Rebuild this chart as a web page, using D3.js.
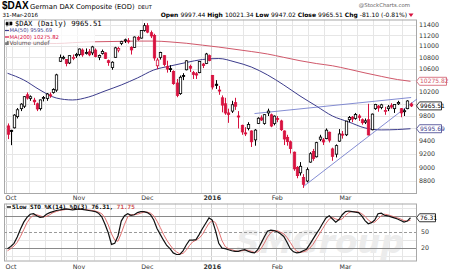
<!DOCTYPE html>
<html>
<head>
<meta charset="utf-8">
<script src="https://cdn.jsdelivr.net/npm/d3@7"></script>
<style>
body { margin: 0; background: #fff; }
svg { display: block; font-family: "DejaVu Sans", Verdana, sans-serif; }
</style>
</head>
<body>
<div id="chart"></div>
<script>
// daily OHLC, 1-Oct-2015 .. 31-Mar-2016 (125 sessions)
var opens = [
  9640,9570,9610,9790,9920,9960,10150,10090,10060,10000,9920,10090,10090,10150,10190,10230,10730,10790,10760,10700,10790,10830,
  10850,10930,10880,10900,10880,10930,10800,10870,10880,10740,10620,10800,10930,11050,11100,11100,10980,10980,11160,11150,11290,
  11380,11250,11200,10650,10800,10830,10640,10600,10550,10350,10170,10480,10580,10640,10530,10510,10530,10680,10690,10830,
  10480,10330,10230,10100,10000,9850,9880,10020,9800,9650,9530,9600,9560,9420,9680,9770,9680,9850,9820,9680,
  9760,9720,9560,9460,9390,9230,9000,8920,8850,8800,9080,9240,9160,9430,9420,9440,9540,9280,9200,9400,9510,
  9500,9740,9780,9760,9800,9740,9700,9740,9580,9920,9960,9940,9880,9920,9970,9920,10000,9920,9870,9920,9997.44
];
var highs = [
  9680,9580,9830,9930,10010,10130,10190,10140,10100,10020,10070,10130,10180,10190,10260,10510,10850,10830,10770,10840,10850,10880,
  10960,10960,10960,10950,11010,10960,10850,10940,10890,10760,10730,10990,10990,11100,11140,11150,11000,11180,11190,11300,11430,
  11430,11290,11230,10790,10900,10840,10740,10660,10570,10420,10480,10520,10750,10670,10560,10540,10730,10700,10880,10850,
  10490,10400,10300,10140,10100,9920,10050,10100,9880,9660,9620,9700,9570,9590,9780,9810,9830,9920,9840,9810,
  9800,9740,9570,9500,9410,9240,9020,9080,8900,9000,9230,9280,9390,9500,9450,9600,9550,9300,9350,9590,9560,
  9720,9800,9800,9850,9830,9760,9760,10000,9840,10000,9980,10000,9950,9980,10010,9990,10050,9930,9920,10060,10021.34
];
var lows = [
  9432,9338,9600,9760,9880,9930,10070,10050,9980,9880,9890,10040,10050,10100,10170,10200,10720,10760,10640,10680,10750,10790,
  10820,10810,10850,10820,10840,10800,10750,10850,10770,10650,10580,10790,10890,11020,11060,11050,10850,10970,11100,11140,11270,
  11240,11150,10740,10590,10760,10640,10530,10540,10320,10110,10150,10400,10570,10540,10420,10420,10520,10610,10680,10730,
  10240,10250,10150,9860,9820,9690,9850,9900,9600,9500,9480,9570,9310,9330,9670,9720,9660,9800,9620,9650,
  9700,9560,9340,9330,9210,8950,8840,8880,8700,8780,9070,9100,9150,9400,9340,9430,9380,9100,9150,9390,9440,
  9480,9700,9700,9740,9720,9660,9670,9490,9570,9900,9870,9910,9820,9880,9920,9850,9980,9780,9800,9910,9947.02
];
var closes = [
  9509,9553,9815,9902,9995,10119,10096,10118,10033,9915,10065,10104,10164,10147,10239,10491,10795,10801,10692,10831,10800,10850,
  10950,10845,10887,10845,10988,10815,10832,10907,10783,10708,10713,10971,10959,11085,11119,11092,10934,11169,11125,11293,11382,
  11261,11190,10789,10752,10886,10673,10592,10598,10340,10140,10450,10469,10738,10608,10500,10488,10727,10654,10860,10743,
  10283,10310,10214,9979,9849,9825,9985,9960,9794,9545,9521,9664,9391,9574,9764,9736,9822,9880,9639,9798,
  9757,9581,9434,9393,9286,8979,8879,9017,8752,8967,9206,9135,9377,9464,9388,9573,9416,9167,9331,9513,9495,
  9717,9776,9751,9824,9778,9692,9723,9498,9831,9990,9933,9983,9892,9950,9948,9990,10022,9851,9887,10047,9965.51
];

// moving averages (session index -> value)
var maIndex = [0,5,10,15,20,25,30,35,40,45,50,55,60,65,70,75,80,85,90,95,100,105,110,115,120,124];
var ma50 = [10519,10403,10231,10097,10064,10114,10215,10317,10438,10576,10646,10708,10762,10779,10718,10629,10490,10317,10131,9964,9800,9704,9608,9577,9583,9595.69];
var ma200 = [11060,11060,11055,11050,11065,11080,11085,11090,11095,11095,11080,11055,11020,10985,10945,10905,10860,10800,10740,10690,10650,10590,10525,10465,10410,10380];

// hand drawn trendlines [session index, price]
var upperTrend = [[76, 9840], [124.2, 10105]];
var lowerTrend = [[90.9, 8714], [126, 10081]];

// slow stochastic
var stoK = [18,22,28,40,55,68,77,83,84,80,77,78,83,86,88,90,91,92,93,92,91,92,93,92,91,90,89,88,85,78,
  64,48,26,28,42,70,80,84,81,82,86,88,88,86,82,72,56,45,34,24,18,10,7,7,14,25,34,34,35,45,
  56,66,76,72,52,28,19,18,16,14,13,13,15,16,13,11,10,16,28,40,51,53,52,50,46,41,30,18,12,10,
  11,14,17,26,36,46,55,66,76,80,74,68,73,82,88,89,88,87,86,80,71,65,67,72,84,85,81,80,78,76,
  74,71,68,70,76.31];
var stoD = [14,18,23,30,41,54,67,76,81,82,80,78,79,82,86,88,90,91,92,92,92,92,92,92,92,91,90,89,87,84,
  76,63,46,34,32,47,64,78,82,82,83,85,87,87,85,80,70,58,45,34,25,17,12,8,9,15,24,31,34,38,
  45,56,66,71,67,51,33,22,18,16,14,13,14,15,15,13,11,12,18,28,40,48,52,52,49,46,39,30,20,13,
  11,12,14,19,26,36,46,56,66,74,77,74,72,74,81,86,88,88,87,84,79,72,68,68,74,80,83,82,80,78,
  76,74,71,70,71.75];

var priceTicks = [8800,9000,9200,9400,9600,9800,10000,10200,10400,10600,10800,11000,11200,11400];
var hiddenTicks = [9600, 10000, 10400];   // covered by the value tags
var stoTicks = [20, 50];
var holidays = ["2015-12-24","2015-12-25","2015-12-31","2016-01-01","2016-03-25","2016-03-28"];

// trading days
var fmt = d3.timeFormat("%Y-%m-%d");
var dates = [];
for (var d = new Date(2015, 9, 1); d <= new Date(2016, 2, 31); d.setDate(d.getDate() + 1)) {
  var wd = d.getDay();
  if (wd == 0 || wd == 6) continue;
  if (holidays.indexOf(fmt(d)) >= 0) continue;
  dates.push(new Date(d));
}

var RED = "#d8123f", BLUE = "#3c3c8c", MARED = "#d0586a", TREND = "#6470c8";

var svg = d3.select("#chart").append("svg").attr("width", 450).attr("height", 272);

var main = {left: 4, right: 416, top: 19.5, bottom: 193};
var sto = {left: 4, right: 416, top: 203.5, bottom: 260.5};

var x = d3.scaleLinear().domain([0, 124]).range([7.5, 410.5]);
var y = d3.scaleLog().domain([8800, 11400]).range([181, 24.7]);
var ys = d3.scaleLinear().domain([0, 100]).range([258.2, 205.2]);

// week / month starts
var weekStarts = [], monthStarts = [];
dates.forEach(function(dt, i) {
  if (i == 0 || dt.getDay() < dates[i - 1].getDay()) weekStarts.push(i);
  if (i == 0 || dt.getMonth() != dates[i - 1].getMonth()) monthStarts.push(i);
});

function panelGrid(p, hvals, yfn) {
  var g = svg.append("g");
  g.selectAll(".v").data(weekStarts).enter().append("line")
    .attr("x1", function(i) { return Math.round(x(i) - 1.6) + 0.5; })
    .attr("x2", function(i) { return Math.round(x(i) - 1.6) + 0.5; })
    .attr("y1", p.top).attr("y2", p.bottom)
    .attr("stroke", function(i) { return monthStarts.indexOf(i) >= 0 ? "#cfcfcf" : "#e6e6e6"; })
    .attr("stroke-width", 1);
  g.selectAll(".h").data(hvals).enter().append("line")
    .attr("x1", p.left).attr("x2", p.right)
    .attr("y1", function(v) { return Math.round(yfn(v)) + 0.5; })
    .attr("y2", function(v) { return Math.round(yfn(v)) + 0.5; })
    .attr("stroke", "#e6e6e6");
}

panelGrid(main, priceTicks, y);
panelGrid(sto, [5, 35, 65, 95], ys);

// watermark
svg.append("text").attr("x", 236).attr("y", 253)
  .attr("font-size", 32).attr("font-weight", "bold").attr("font-style", "italic")
  .attr("fill", "#ececec").attr("textLength", 168).attr("lengthAdjust", "spacingAndGlyphs")
  .text("SMGroup");

// stoch reference lines
[20, 80].forEach(function(v) {
  svg.append("line").attr("x1", sto.left).attr("x2", sto.right)
    .attr("y1", Math.round(ys(v)) + 0.5).attr("y2", Math.round(ys(v)) + 0.5)
    .attr("stroke", "#8a8a8a");
});
svg.append("line").attr("x1", sto.left).attr("x2", sto.right)
  .attr("y1", Math.round(ys(50)) + 0.5).attr("y2", Math.round(ys(50)) + 0.5)
  .attr("stroke", "#9a9a9a").attr("stroke-dasharray", "3,2");

// panel borders
[main, sto].forEach(function(p) {
  svg.append("rect").attr("x", p.left + 0.5).attr("y", p.top + 0.5)
    .attr("width", p.right - p.left).attr("height", p.bottom - p.top)
    .attr("fill", "none").attr("stroke", "#a8a8a8");
});

// moving averages
var maLine = function(vals) {
  return d3.line().curve(d3.curveMonotoneX)
    .x(function(d, i) { return x(maIndex[i]); })
    .y(function(d) { return y(d); })(vals);
};
svg.append("path").attr("d", maLine(ma200)).attr("fill", "none").attr("stroke", MARED).attr("stroke-width", 1);
svg.append("path").attr("d", maLine(ma50)).attr("fill", "none").attr("stroke", BLUE).attr("stroke-width", 1);

// trendlines
[upperTrend, lowerTrend].forEach(function(t) {
  svg.append("line")
    .attr("x1", x(t[0][0])).attr("y1", y(t[0][1]))
    .attr("x2", x(t[1][0])).attr("y2", y(t[1][1]))
    .attr("stroke", TREND).attr("stroke-width", 0.8);
});

// candles
var idx = d3.range(closes.length);
var col = function(i) { return (i == 0 || closes[i] < closes[i - 1]) ? RED : "#000"; };
var cg = svg.append("g").selectAll("g").data(idx).enter().append("g");
cg.append("line")
  .attr("x1", function(i) { return Math.round(x(i)) + 0.5; })
  .attr("x2", function(i) { return Math.round(x(i)) + 0.5; })
  .attr("y1", function(i) { return y(highs[i]); })
  .attr("y2", function(i) { return y(lows[i]); })
  .attr("stroke", col).attr("stroke-width", 1);
cg.append("rect")
  .attr("x", function(i) { return Math.round(x(i)) - 0.7; })
  .attr("width", 2.4)
  .attr("y", function(i) { return y(Math.max(opens[i], closes[i])); })
  .attr("height", function(i) { return Math.max(1, Math.abs(y(opens[i]) - y(closes[i]))); })
  .attr("fill", function(i) { return closes[i] < opens[i] ? col(i) : "#fff"; })
  .attr("stroke", col).attr("stroke-width", 0.8);

// stochastic lines
var stoLine = d3.line().x(function(d, i) { return x(i); }).y(function(d) { return ys(d); });
svg.append("path").attr("d", stoLine(stoD)).attr("fill", "none").attr("stroke", "#e07070").attr("stroke-width", 1);
svg.append("path").attr("d", stoLine(stoK)).attr("fill", "none").attr("stroke", "#111").attr("stroke-width", 1.2);

// right axes
svg.append("g").attr("font-size", 6.3).attr("fill", "#333")
  .selectAll("text").data(priceTicks.filter(function(v) { return hiddenTicks.indexOf(v) < 0; }))
  .enter().append("text")
  .attr("x", 419).attr("y", function(v) { return y(v); }).attr("dy", "0.35em")
  .text(function(v) { return v; });
svg.append("g").attr("font-size", 6.3).attr("fill", "#333")
  .selectAll("text").data(stoTicks).enter().append("text")
  .attr("x", 421).attr("y", function(v) { return ys(v); }).attr("dy", "0.35em")
  .text(function(v) { return v; });

function tag(yv, label, color, w) {
  var x0 = 416.5, h = 4;
  svg.append("path")
    .attr("d", "M" + x0 + "," + yv + "L" + (x0 + 3) + "," + (yv - h) + "L" + (x0 + w) + "," + (yv - h) +
      "L" + (x0 + w) + "," + (yv + h) + "L" + (x0 + 3) + "," + (yv + h) + "Z")
    .attr("fill", "#fff").attr("stroke", color).attr("stroke-width", 0.8);
  svg.append("text").attr("x", x0 + 3.5).attr("y", yv).attr("dy", "0.35em")
    .attr("font-size", 6).attr("fill", color).text(label);
}
tag(y(ma200[ma200.length - 1]), "10275.82", MARED, 30);
tag(y(closes[124]), "9965.51", "#000", 25);
tag(y(ma50[ma50.length - 1]), "9595.69", BLUE, 25);
tag(ys(stoK[124]), "76.31", "#000", 19);

// month labels
var monthNames = ["Oct", "Nov", "Dec", "2016", "Feb", "Mar"];
[198, 267].forEach(function(ly) {
  svg.append("g").selectAll("text").data(monthStarts).enter().append("text")
    .attr("x", function(i) { return Math.max(11, x(i)); })
    .attr("y", ly).attr("dy", "0.35em").attr("text-anchor", "middle")
    .attr("font-size", 6.3).attr("fill", "#333")
    .attr("font-weight", function(i, k) { return k == 3 ? "bold" : "normal"; })
    .text(function(i, k) { return monthNames[k]; });
});

// header
svg.append("text").attr("x", 2).attr("y", 9).attr("font-size", 10).attr("font-weight", "bold")
  .attr("font-family", "Liberation Sans, Arial, sans-serif").text("$DAX");
svg.append("text").attr("x", 30).attr("y", 8.5).attr("font-size", 6.8).text("German DAX Composite (EOD)");
svg.append("text").attr("x", 138).attr("y", 8.5).attr("font-size", 5).text("DEUT");
svg.append("text").attr("x", 2.5).attr("y", 17).attr("font-size", 5.6).text("31-Mar-2016");
svg.append("text").attr("x", 410).attr("y", 7).attr("font-size", 5.4).attr("fill", "#666")
  .attr("text-anchor", "end").text("@StockCharts.com");

var ohlc = [["Open ", "9997.44 "], ["High ", "10021.34 "], ["Low ", "9947.02 "], ["Close ", "9965.51 "], ["Chg ", "-81.10 (-0.81%)"]];
var hdr = svg.append("text").attr("x", 407).attr("y", 17).attr("font-size", 6).attr("text-anchor", "end");
ohlc.forEach(function(p) {
  hdr.append("tspan").attr("font-weight", "bold").text(p[0]);
  hdr.append("tspan").text(p[1]);
});
svg.append("path").attr("d", "M408.5,13.5L413.5,13.5L411,17Z").attr("fill", RED);

// main legend
var lg = svg.append("g").attr("font-family", "DejaVu Sans Mono, monospace");
lg.append("rect").attr("x", 5).attr("y", 20.5).attr("width", 90).attr("height", 25).attr("fill", "#fff").attr("opacity", 0.75);
lg.append("path").attr("d", "M7,21.5V26.5M6,22.5h2v2.5h-2zM9,21.5V26M10,22h2v3h-2z").attr("stroke", "#000").attr("stroke-width", 0.6).attr("fill", "#000");
lg.append("text").attr("x", 15).attr("y", 26.2).attr("font-size", 7.2).text("$DAX (Daily) 9965.51");
lg.append("line").attr("x1", 5).attr("x2", 9).attr("y1", 30.5).attr("y2", 30.5).attr("stroke", BLUE).attr("stroke-width", 1.2);
lg.append("text").attr("x", 9.5).attr("y", 32.3).attr("font-size", 5.3).attr("fill", BLUE)
  .attr("font-family", "DejaVu Sans, sans-serif").text("MA(50) 9595.69");
lg.append("line").attr("x1", 5).attr("x2", 9).attr("y1", 37).attr("y2", 37).attr("stroke", RED).attr("stroke-width", 1.2);
lg.append("text").attr("x", 9.5).attr("y", 38.8).attr("font-size", 5.3).attr("fill", RED)
  .attr("font-family", "DejaVu Sans, sans-serif").text("MA(200) 10275.82");
lg.append("path").attr("d", "M5.5,45V42.5h1.2V45M7.2,45V41.3h1.2V45").attr("fill", "#666").attr("stroke", "#666").attr("stroke-width", 0.5);
lg.append("text").attr("x", 9.5).attr("y", 45.2).attr("font-size", 5.8).attr("fill", "#555")
  .attr("font-family", "DejaVu Sans, sans-serif").text("Volume undef");

// stoch legend
var sl = svg.append("text").attr("x", 12).attr("y", 209).attr("font-size", 6)
  .attr("font-family", "DejaVu Sans Mono, monospace").attr("font-weight", "bold");
sl.append("tspan").text("Slow STO %K(14) %D(3) 76.31, ");
sl.append("tspan").attr("fill", "#d05050").text("71.75");
svg.append("line").attr("x1", 7).attr("x2", 11).attr("y1", 207).attr("y2", 207).attr("stroke", "#000").attr("stroke-width", 1.3);
</script>
</body>
</html>
